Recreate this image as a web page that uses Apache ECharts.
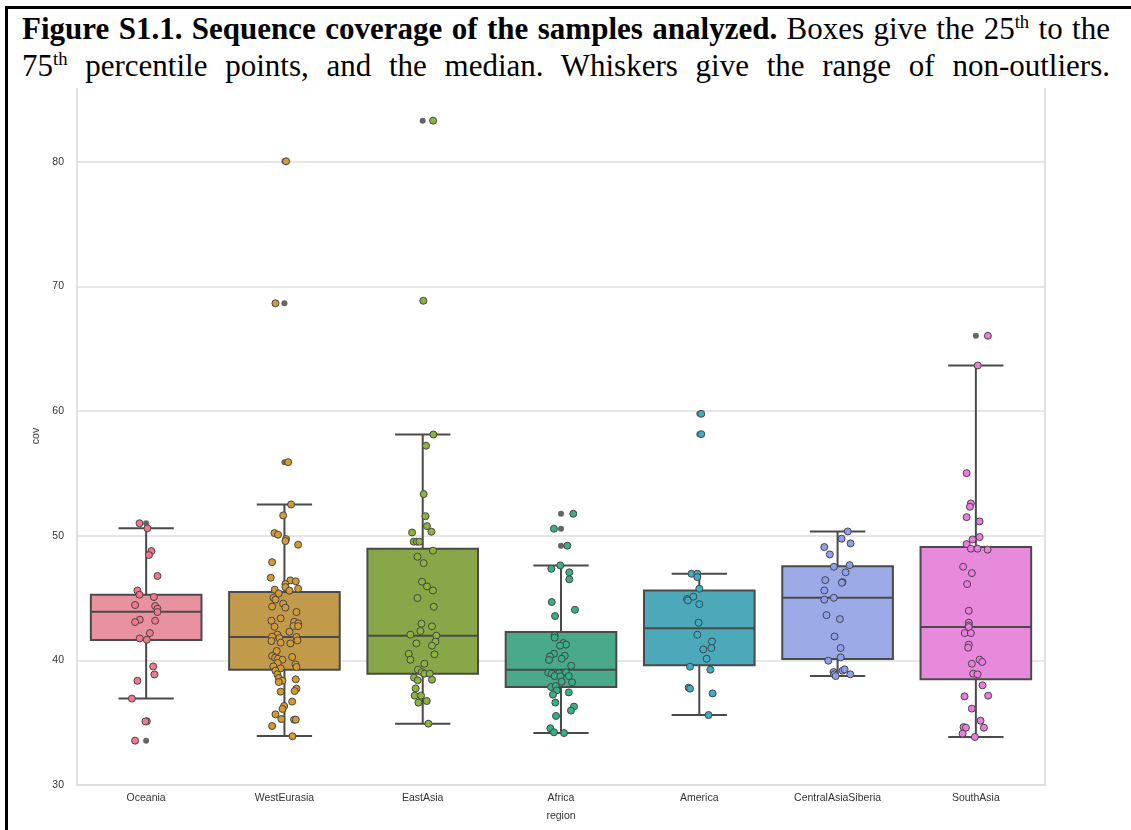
<!DOCTYPE html>
<html>
<head>
<meta charset="utf-8">
<title>Sequence coverage</title>
<script src="https://cdn.jsdelivr.net/npm/echarts@6/dist/echarts.min.js"></script>
<style>
  body { margin: 0; background: #fff; }
  #main { position: absolute; left: 0; top: 0; width: 1131px; height: 830px; }
  #caption {
    position: absolute; left: 8px; top: 9px; width: 1088px; height: 78px;
    padding: 1px 21px 0 14px; background: #fff; z-index: 2;
    font-family: 'Liberation Serif', 'Times New Roman', serif; font-size: 31px;
    line-height: 37px; color: #000; text-align: justify; text-align-last: justify;
  }
  #caption sup { font-size: 60%; line-height: 0; }
  #frame {
    position: absolute; left: 5px; top: 6px; right: 0; bottom: 0; z-index: 3;
    border-top: 3px solid #000; border-left: 3px solid #000; pointer-events: none;
  }
</style>
</head>
<body>
<div id="main"></div>
<div id="caption"><b>Figure S1.1. Sequence coverage of the samples analyzed.</b> Boxes give the 25<sup>th</sup> to the<br>75<sup>th</sup> percentile points, and the median. Whiskers give the range of non-outliers.</div>
<div id="frame"></div>
<script>
let regions = ['Oceania', 'WestEurasia', 'EastAsia', 'Africa', 'America', 'CentralAsiaSiberia', 'SouthAsia']

// box statistics: whisker ends, quartiles, median
let whiskerLow = [36.93, 33.93, 34.92, 34.17, 35.61, 38.74, 33.85]
let quartile1 = [41.63, 39.25, 38.93, 37.86, 39.60, 40.11, 38.48]
let medians = [43.90, 41.87, 41.98, 39.25, 42.57, 45.02, 42.67]
let quartile3 = [45.27, 45.48, 48.96, 42.27, 45.61, 47.56, 49.09]
let whiskerHigh = [50.59, 52.51, 58.12, 47.62, 46.95, 50.34, 63.66]

// outliers of the box plot: [region index, cov]
let fliers = [[0, 51.0], [0, 33.56], [1, 80.04], [1, 68.65], [1, 55.9], [2, 83.3], [2, 68.85],
  [3, 51.76], [3, 50.56], [3, 49.2], [4, 59.78], [4, 58.15], [6, 66.04]]

// samples: [jitter, cov]
let oceania = [[-0.048, 51.0], [0.009, 50.6], [0.038, 48.77], [0.02, 48.45], [0.082, 46.77], [-0.063, 45.6],
  [-0.048, 45.27], [0.056, 45.08], [-0.08, 44.44], [0.065, 44.36], [0.082, 44.14], [0.082, 43.88],
  [-0.046, 43.26], [-0.08, 43.07], [0.065, 43.18], [0.027, 42.19], [-0.046, 41.76], [0.005, 41.65],
  [0.051, 39.51], [0.06, 38.87], [-0.063, 38.36], [-0.103, 36.93], [0.005, 35.11], [-0.005, 35.1], [-0.08, 33.56]]
let westEurasia = [[0.012, 80.04], [-0.065, 68.65], [0.027, 55.9],
  [0.048, 52.51], [-0.009, 51.63], [-0.072, 50.21], [-0.046, 50.08], [0.012, 49.73], [0.007, 49.57],
  [0.099, 49.28], [-0.089, 47.88], [-0.099, 46.63], [0.043, 46.42], [0.082, 46.34], [0.007, 46.12],
  [0.007, 45.88], [0.099, 45.75], [-0.07, 45.67], [0.036, 45.59], [-0.041, 45.37], [-0.08, 45.02],
  [-0.065, 44.87], [-0.009, 44.55], [-0.089, 44.31], [0.007, 44.23], [0.087, 43.88], [-0.027, 43.37],
  [-0.094, 43.18], [0.07, 43.1], [0.099, 42.97], [0.065, 42.75], [0.099, 42.75], [-0.072, 42.7],
  [0.036, 42.3], [-0.051, 42.06], [-0.089, 41.9], [0.087, 41.87], [-0.036, 41.79], [-0.094, 41.55],
  [0.094, 41.6], [-0.027, 41.42], [0.043, 41.36], [-0.056, 40.75], [-0.089, 40.35], [0.056, 40.27],
  [-0.067, 40.21], [-0.046, 40.13], [-0.014, 40.05], [-0.048, 39.79], [0.08, 39.68], [-0.08, 39.52],
  [-0.027, 39.36], [0.087, 39.47], [-0.065, 39.17], [-0.051, 38.88], [-0.041, 38.58], [-0.014, 38.37],
  [-0.041, 38.26], [0.082, 38.48], [-0.027, 37.49], [0.087, 37.73], [0.074, 37.54], [0.056, 36.69],
  [-0.002, 36.34], [-0.014, 36.1], [-0.065, 35.67], [-0.022, 35.29], [0.07, 35.24], [0.082, 35.24],
  [-0.089, 34.73], [0.058, 33.91]]
let eastAsia = [[0.075, 83.3], [0.005, 68.85],
  [0.077, 58.12], [0.024, 57.22], [0.007, 53.34], [0.02, 51.57], [0.031, 50.77], [0.063, 50.32],
  [-0.077, 50.26], [-0.065, 49.52], [-0.043, 49.52], [-0.024, 49.52], [0.074, 48.8], [-0.038, 48.31],
  [0.007, 47.8], [-0.005, 46.31], [0.031, 45.93], [0.074, 45.61], [-0.038, 45.0], [0.08, 44.3],
  [-0.009, 42.94], [-0.017, 42.35], [0.067, 42.73], [-0.089, 42.06], [0.099, 41.98], [0.092, 41.5],
  [-0.046, 41.36], [0.067, 41.18], [-0.101, 40.53], [0.085, 40.48], [-0.089, 40.05], [0.012, 39.73],
  [-0.034, 39.25], [-0.007, 39.06], [0.012, 38.93], [0.051, 38.93], [-0.063, 38.61], [-0.036, 38.4],
  [0.067, 38.45], [-0.051, 37.75], [-0.058, 37.17], [-0.012, 37.17], [-0.031, 36.61], [0.029, 36.74],
  [0.041, 34.92]]
let africa = [[0.089, 51.76], [-0.051, 50.56], [0.046, 49.2], [-0.005, 47.62], [-0.07, 47.35], [0.06, 47.06],
  [0.06, 46.5], [-0.067, 44.68], [0.101, 44.06], [-0.043, 43.55], [-0.046, 42.0], [-0.046, 41.82],
  [0.017, 41.39], [0.036, 41.26], [-0.007, 41.18], [-0.051, 40.53], [0.027, 40.37], [-0.08, 40.32],
  [0.005, 40.13], [-0.087, 40.03], [0.074, 39.57], [-0.092, 39.01], [-0.067, 38.93], [-0.014, 38.96],
  [0.036, 39.04], [-0.046, 38.74], [-0.005, 38.72], [0.056, 38.74], [0.005, 38.29], [0.08, 38.24],
  [-0.072, 37.86], [-0.038, 37.94], [-0.031, 37.59], [-0.058, 37.25], [0.056, 37.43], [-0.041, 36.61],
  [0.094, 36.29], [0.072, 35.97], [-0.036, 35.54], [-0.077, 34.55], [-0.051, 34.23], [0.022, 34.17]]
let america = [[0.014, 59.78], [0.014, 58.15], [-0.056, 46.95], [-0.014, 46.95], [-0.014, 46.68], [0.0, 45.75],
  [-0.089, 44.92], [-0.082, 44.81], [-0.043, 45.11], [0.0, 44.51], [-0.005, 43.02], [-0.014, 42.06],
  [0.092, 41.52], [0.029, 40.88], [0.087, 40.99], [0.053, 40.13], [-0.067, 39.49], [0.08, 39.25],
  [-0.077, 37.81], [-0.067, 37.73], [0.096, 37.35], [0.067, 35.61]]
let centralAsiaSiberia = [[0.074, 50.34], [0.029, 49.76], [0.094, 49.38], [-0.096, 49.09], [-0.056, 48.5],
  [0.087, 47.64], [-0.027, 47.51], [0.058, 47.06], [-0.089, 46.44], [0.036, 46.28], [0.031, 46.23],
  [-0.096, 45.61], [-0.096, 44.87], [-0.027, 45.02], [-0.08, 43.63], [0.017, 43.31], [-0.022, 41.92],
  [0.022, 40.99], [0.022, 40.24], [-0.067, 39.97], [-0.029, 39.06], [-0.024, 38.88], [-0.014, 38.74],
  [0.036, 39.17], [0.051, 39.28], [0.092, 38.88]]
let southAsia = [[0.087, 66.04], [0.014, 63.66], [-0.067, 55.02], [-0.036, 52.59], [-0.043, 52.32],
  [-0.067, 51.49], [0.027, 51.15], [0.027, 49.89], [-0.024, 49.7], [-0.067, 49.33], [-0.036, 48.96],
  [0.012, 48.96], [0.085, 48.88], [-0.092, 47.51], [-0.029, 47.0], [-0.063, 46.12], [-0.051, 43.98],
  [-0.051, 43.02], [-0.051, 42.81], [-0.051, 42.67], [-0.08, 42.19], [-0.036, 42.19], [-0.051, 41.26],
  [-0.056, 41.02], [0.027, 40.05], [0.046, 39.87], [-0.029, 39.73], [-0.02, 38.93], [0.012, 38.88],
  [0.048, 38.0], [-0.082, 37.11], [0.089, 37.17], [-0.029, 36.13], [0.034, 35.16], [-0.089, 34.65],
  [-0.072, 34.6], [0.058, 34.6], [-0.096, 34.12], [-0.007, 33.85]]
let samples = [oceania, westEurasia, eastAsia, africa, america, centralAsiaSiberia, southAsia]

let boxColors = ['#E8929F', '#C29A4C', '#87A748', '#4AA98A', '#4CA9B9', '#9CAAE8', '#E88ADC']
let dotColors = ['#F3778C', '#D49B33', '#8DB43A', '#35B089', '#3BAEC6', '#8E9FF0', '#EE7AE2']
let edgeColor = '#4a4a4a'

function renderBox (params, api) {
  let i = api.value(0)
  let lo = api.coord([i, api.value(1)])
  let q1 = api.coord([i, api.value(2)])
  let md = api.coord([i, api.value(3)])
  let q3 = api.coord([i, api.value(4)])
  let hi = api.coord([i, api.value(5)])
  let half = api.size([1, 0])[0] * 0.4
  let cx = md[0]
  let line = { stroke: edgeColor, lineWidth: 2 }
  return {
    type: 'group',
    children: [
      { type: 'line', shape: { x1: cx, y1: hi[1], x2: cx, y2: q3[1] }, style: line },
      { type: 'line', shape: { x1: cx, y1: q1[1], x2: cx, y2: lo[1] }, style: line },
      { type: 'line', shape: { x1: cx - half / 2, y1: hi[1], x2: cx + half / 2, y2: hi[1] }, style: line },
      { type: 'line', shape: { x1: cx - half / 2, y1: lo[1], x2: cx + half / 2, y2: lo[1] }, style: line },
      { type: 'rect', shape: { x: cx - half, y: q3[1], width: half * 2, height: q1[1] - q3[1] },
        style: { fill: boxColors[params.dataIndex], stroke: edgeColor, lineWidth: 2 } },
      { type: 'line', shape: { x1: cx - half, y1: md[1], x2: cx + half, y2: md[1] }, style: line }
    ]
  }
}

let series = [{
  type: 'custom',
  xAxisIndex: 0,
  renderItem: renderBox,
  encode: { x: 0, y: [1, 2, 3, 4, 5] },
  data: regions.map((r, i) => [i, whiskerLow[i], quartile1[i], medians[i], quartile3[i], whiskerHigh[i]])
}, {
  type: 'scatter',
  xAxisIndex: 1,
  symbolSize: 6,
  itemStyle: { color: '#3f3f3f' },
  data: fliers
}]
for (let i = 0; i < samples.length; i++) {
  series.push({
    type: 'scatter',
    name: regions[i],
    xAxisIndex: 1,
    symbolSize: 7,
    itemStyle: { color: dotColors[i], borderColor: '#454545', borderWidth: 1, opacity: 1 },
    data: samples[i].map(p => [i + p[0], p[1]])
  })
}

let myChart = echarts.init(document.getElementById('main'))
let option = {
  animation: false,
  backgroundColor: '#fff',
  grid: { left: 77, right: 86, top: 87, bottom: 45, show: true, borderColor: '#d9d9d9', borderWidth: 1.5 },
  xAxis: [{
    type: 'category',
    data: regions,
    name: 'region',
    nameLocation: 'middle',
    nameGap: 26,
    nameTextStyle: { fontFamily: 'Liberation Sans', fontSize: 10.5, color: '#333' },
    axisLine: { show: false },
    axisTick: { show: false },
    axisLabel: { fontFamily: 'Liberation Sans', fontSize: 10.5, color: '#333', margin: 8 },
    splitLine: { show: false }
  }, {
    type: 'value',
    min: -0.5,
    max: 6.5,
    show: false
  }],
  yAxis: {
    type: 'value',
    min: 30,
    max: 86,
    interval: 10,
    name: 'cov',
    nameLocation: 'middle',
    nameGap: 24,
    nameTextStyle: { fontFamily: 'Liberation Sans', fontSize: 10.5, color: '#333' },
    axisLine: { show: false },
    axisTick: { show: false },
    axisLabel: { fontFamily: 'Liberation Sans', fontSize: 10.5, color: '#333', margin: 13, showMaxLabel: false },
    splitLine: { lineStyle: { color: '#dedede', width: 1.5 } }
  },
  series: series
}
myChart.setOption(option)
</script>
</body>
</html>
